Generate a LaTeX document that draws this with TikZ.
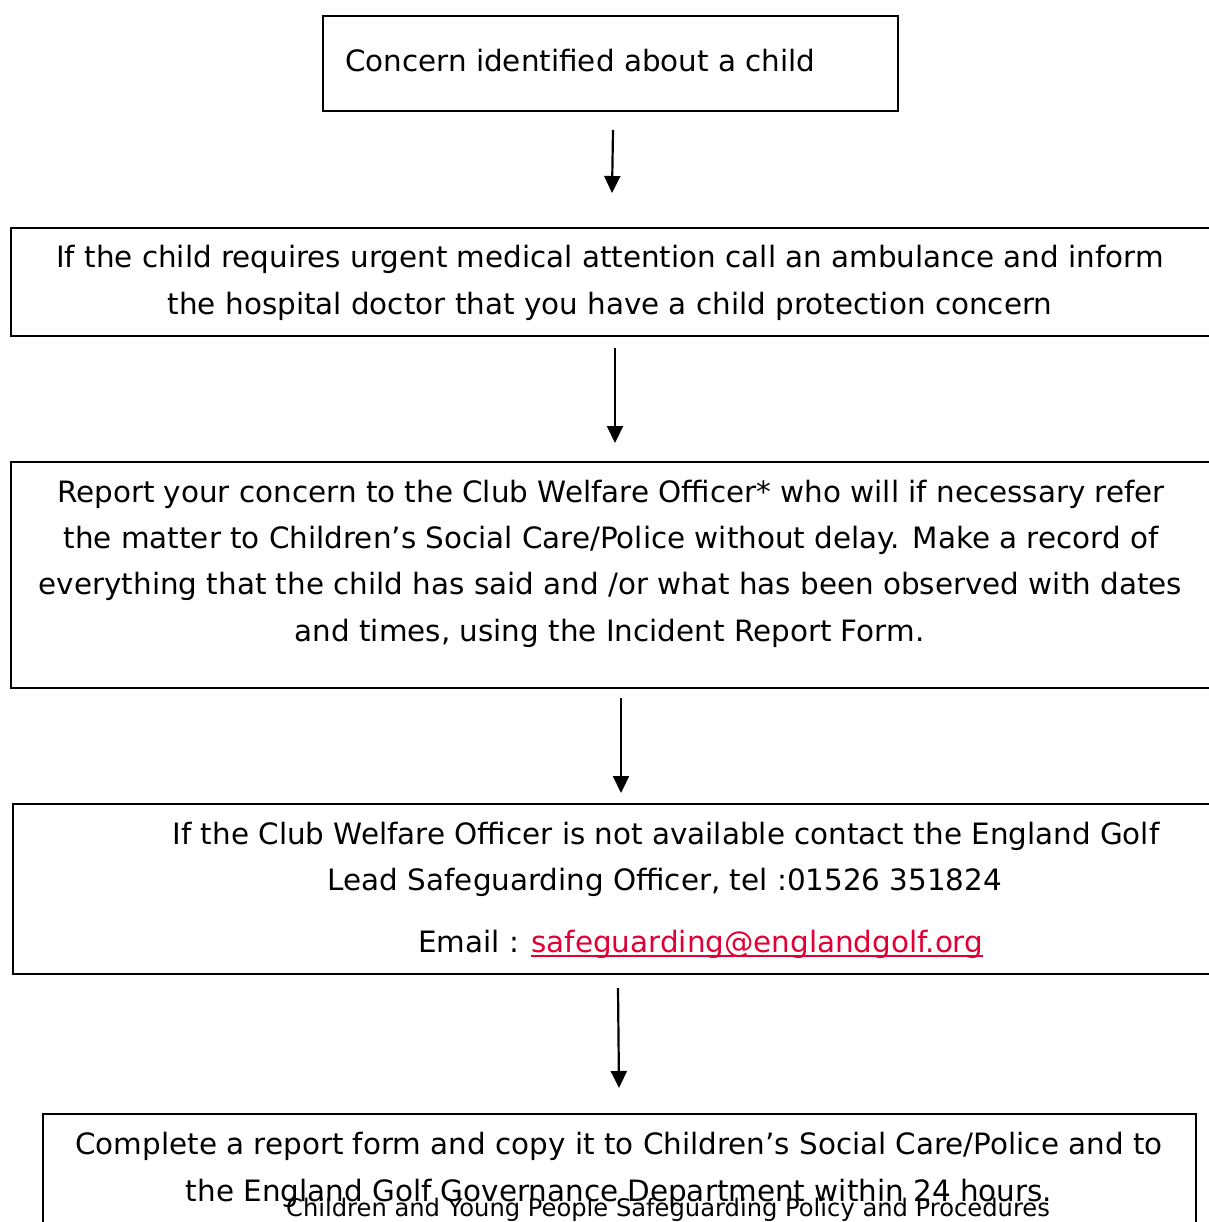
\documentclass[tikz,border=0pt]{standalone}
\usepackage{fontspec}
\setmainfont{DejaVu Sans}
\usetikzlibrary{arrows.meta}
\definecolor{linkred}{RGB}{224,0,52}
\newcommand\redul[1]{\setbox0\hbox{#1}\rlap{\color{linkred}\rule[-5pt]{\wd0}{2pt}}\box0}
\begin{document}
\begin{tikzpicture}[x=1pt,y=-1pt,
  box/.style={draw=black, line width=2.8pt, inner sep=0pt, fill=none},
  txt/.style={inner sep=0pt, anchor=base, font=\fontsize{29.4}{46}\selectfont},
  ltxt/.style={txt, anchor=base west},
  foot/.style={inner sep=0pt, anchor=base, font=\fontsize{24.2}{28}\selectfont},
  arr/.style={line width=2.2pt, -{Triangle[length=17pt,width=16pt]}}]
\useasboundingbox (0,0) rectangle (1208,1222);
% boxes
\node[box, minimum width=575pt, minimum height=95pt] (b1) at (610.5,63.5) {};
\node[box, minimum width=1219pt, minimum height=108pt] (b2) at (620.5,282) {};
\node[box, minimum width=1219pt, minimum height=226pt] (b3) at (620.5,575) {};
\node[box, minimum width=1217pt, minimum height=170pt] (b4) at (621.5,889) {};
\node[box, minimum width=1153pt, minimum height=146pt] (b5) at (619.5,1187) {};
% texts
\node[ltxt] (t1) at (345,72) {Concern identified about a child};
\node[txt] (t2a) at (610,268) {If the child requires urgent medical attention call an ambulance and inform};
\node[txt] (t2b) at (610,314) {the hospital doctor that you have a child protection concern};
\node[txt] (t3a) at (611,502) {Report your concern to the Club Welfare Officer* who will if necessary refer};
\node[txt] (t3b) at (611,548) {the matter to Children’s Social Care/Police without delay. Make a record of};
\node[txt] (t3c) at (610.5,594) {everything that the child has said and /or what has been observed with dates};
\node[txt] (t3d) at (609.5,641) {and times, using the Incident Report Form.};
\node[txt] (t4a) at (666,844) {If the Club Welfare Officer is not available contact the England Golf};
\node[txt] (t4b) at (665,890) {Lead Safeguarding Officer, tel :01526 351824};
\node[ltxt] (t4c) at (418,952) {Email : \textcolor{linkred}{\redul{safeguarding@englandgolf.org}}};
\node[txt] (t5a) at (619,1154) {Complete a report form and copy it to Children’s Social Care/Police and to};
\node[txt] (t5b) at (619,1201) {the England Golf Governance Department within 24 hours.};
\node[foot] (ft) at (668,1216) {Children and Young People Safeguarding Policy and Procedures};
% arrows
\coordinate (a1s) at (613,130); \coordinate (a1e) at (612,193);
\coordinate (a2s) at (615,348); \coordinate (a2e) at (615,443);
\coordinate (a3s) at (621,698); \coordinate (a3e) at (621,793);
\coordinate (a4s) at (618,988); \coordinate (a4e) at (619,1088);
\draw[arr] (a1s) -- (a1e);
\draw[arr] (a2s) -- (a2e);
\draw[arr] (a3s) -- (a3e);
\draw[arr] (a4s) -- (a4e);
\end{tikzpicture}
\end{document}
